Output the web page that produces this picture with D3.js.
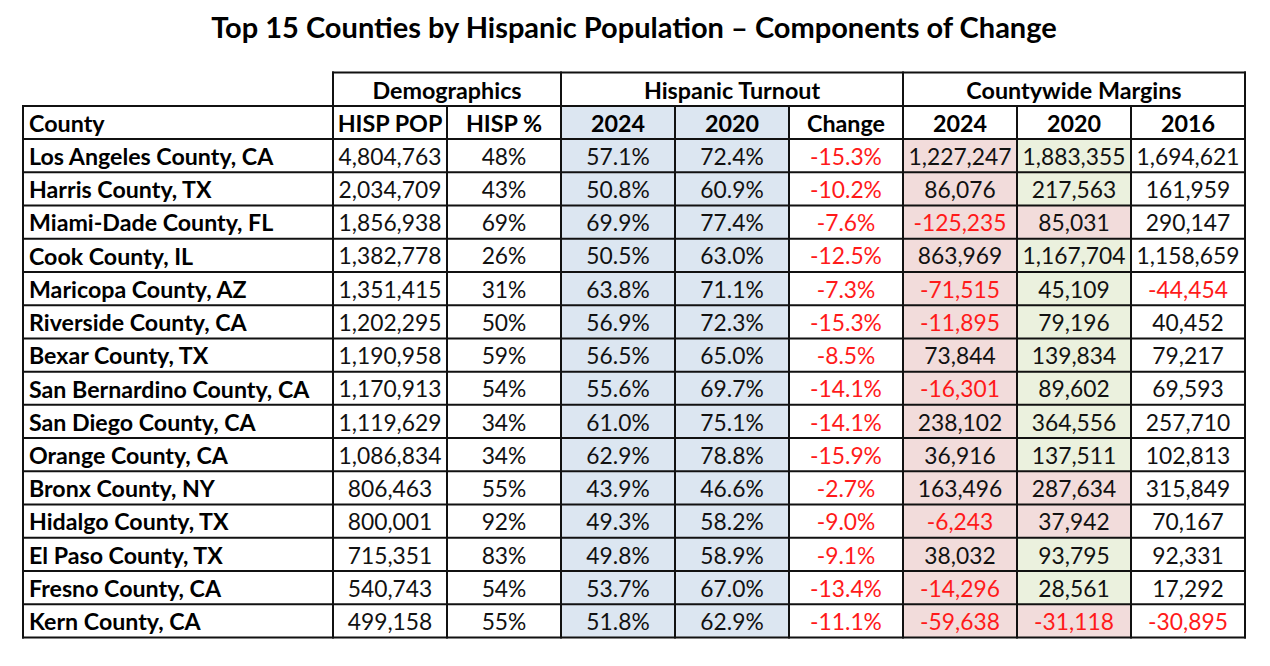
<!DOCTYPE html>
<html>
<head>
<meta charset="utf-8">
<script src="https://cdn.jsdelivr.net/npm/d3@7"></script>
<style>
  html, body { margin: 0; padding: 0; background: #fff; }
  svg { display: block; font-family: Lato, "Open Sans", sans-serif; }
  .title { font-weight: 700; font-size: 29px; fill: #000; }
  .head { font-weight: 700; font-size: 23.3px; fill: #000; }
  .cell { font-size: 22.8px; fill: #111; }
  .county { font-weight: 700; font-size: 23.2px; fill: #000; }
  .neg { fill: #ff1a1a; }
</style>
</head>
<body>
<svg id="chart" width="1270" height="666"></svg>
<script>
const counties = [
  "Los Angeles County, CA", "Harris County, TX", "Miami-Dade County, FL", "Cook County, IL",
  "Maricopa County, AZ", "Riverside County, CA", "Bexar County, TX", "San Bernardino County, CA",
  "San Diego County, CA", "Orange County, CA", "Bronx County, NY", "Hidalgo County, TX",
  "El Paso County, TX", "Fresno County, CA", "Kern County, CA"
];
const hispPop = [4804763, 2034709, 1856938, 1382778, 1351415, 1202295, 1190958, 1170913, 1119629, 1086834, 806463, 800001, 715351, 540743, 499158];
const hispPct = [48, 43, 69, 26, 31, 50, 59, 54, 34, 34, 55, 92, 83, 54, 55];
const turnout2024 = [57.1, 50.8, 69.9, 50.5, 63.8, 56.9, 56.5, 55.6, 61.0, 62.9, 43.9, 49.3, 49.8, 53.7, 51.8];
const turnout2020 = [72.4, 60.9, 77.4, 63.0, 71.1, 72.3, 65.0, 69.7, 75.1, 78.8, 46.6, 58.2, 58.9, 67.0, 62.9];
const turnoutChange = [-15.3, -10.2, -7.6, -12.5, -7.3, -15.3, -8.5, -14.1, -14.1, -15.9, -2.7, -9.0, -9.1, -13.4, -11.1];
const margin2024 = [1227247, 86076, -125235, 863969, -71515, -11895, 73844, -16301, 238102, 36916, 163496, -6243, 38032, -14296, -59638];
const margin2020 = [1883355, 217563, 85031, 1167704, 45109, 79196, 139834, 89602, 364556, 137511, 287634, 37942, 93795, 28561, -31118];
const margin2016 = [1694621, 161959, 290147, 1158659, -44454, 40452, 79217, 69593, 257710, 102813, 315849, 70167, 92331, 17292, -30895];

const groupLabels = ["Demographics", "Hispanic Turnout", "Countywide Margins"];
const columnLabels = ["HISP POP", "HISP %", "2024", "2020", "Change", "2024", "2020", "2016"];
const title = "Top 15 Counties by Hispanic Population \u2013 Components of Change";

const locale = d3.formatLocale({ decimal: ".", thousands: ",", grouping: [3], currency: ["$", ""], minus: "-" });
const fmtInt = locale.format(",");
const fmtPct1 = v => locale.format(".1f")(v) + "%";
const fmtPct0 = v => v + "%";

const BLUE = "#dce6f1", PINK = "#f2dcdb", GREEN = "#ebf1de";

const svg = d3.select("#chart");
const left = 23, countyRight = 333, right = 1245;
const headTop = 72.5, headMid = 106, bodyTop = 139, bodyBottom = 637.5;

svg.append("text").attr("class", "title")
  .attr("x", 634).attr("y", 38).attr("text-anchor", "middle").text(title);

const colKeys = d3.range(columnLabels.length);
const x = d3.scaleBand().domain(colKeys).range([countyRight, right]);
const y = d3.scaleBand().domain(d3.range(counties.length)).range([bodyTop, bodyBottom]);

// column definitions: values, formatter, fill rule
const columns = [
  { values: hispPop, fmt: fmtInt, fill: () => null },
  { values: hispPct, fmt: fmtPct0, fill: () => null },
  { values: turnout2024, fmt: fmtPct1, fill: () => BLUE },
  { values: turnout2020, fmt: fmtPct1, fill: () => BLUE },
  { values: turnoutChange, fmt: fmtPct1, fill: () => null },
  { values: margin2024, fmt: fmtInt, fill: i => margin2024[i] < margin2020[i] ? PINK : GREEN },
  { values: margin2020, fmt: fmtInt, fill: i => margin2020[i] < margin2016[i] ? PINK : GREEN },
  { values: margin2016, fmt: fmtInt, fill: () => null }
];

// fills
const fills = [];
columns.forEach((c, ci) => counties.forEach((_, ri) => {
  const f = c.fill(ri);
  if (f) fills.push({ ci, ri, f });
}));
svg.append("g").selectAll("rect").data(fills).join("rect")
  .attr("x", d => x(d.ci)).attr("y", d => y(d.ri))
  .attr("width", x.bandwidth()).attr("height", y.bandwidth())
  .attr("fill", d => d.f);
// header fills for turnout years
svg.append("g").selectAll("rect").data([2, 3]).join("rect")
  .attr("x", d => x(d)).attr("y", headMid)
  .attr("width", x.bandwidth()).attr("height", bodyTop - headMid)
  .attr("fill", BLUE);

// group header
const groups = [
  { label: groupLabels[0], from: 0, to: 1 },
  { label: groupLabels[1], from: 2, to: 4 },
  { label: groupLabels[2], from: 5, to: 7 }
];
svg.append("g").selectAll("text").data(groups).join("text")
  .attr("class", "head")
  .attr("x", d => (x(d.from) + x(d.to) + x.bandwidth()) / 2)
  .attr("y", (headTop + headMid) / 2)
  .attr("dy", "0.4em").attr("text-anchor", "middle")
  .text(d => d.label);

// column header
svg.append("text").attr("class", "head").attr("x", left + 6)
  .attr("y", (headMid + bodyTop) / 2).attr("dy", "0.4em").text("County");
svg.append("g").selectAll("text").data(colKeys).join("text")
  .attr("class", "head")
  .attr("x", d => x(d) + x.bandwidth() / 2)
  .attr("y", (headMid + bodyTop) / 2)
  .attr("dy", "0.4em").attr("text-anchor", "middle")
  .text(d => columnLabels[d]);

// county names
svg.append("g").selectAll("text").data(counties).join("text")
  .attr("class", "county")
  .attr("x", left + 6)
  .attr("y", (d, i) => y(i) + y.bandwidth() / 2)
  .attr("dy", "0.4em")
  .text(d => d);

// cells
const cells = [];
columns.forEach((c, ci) => c.values.forEach((v, ri) => cells.push({ ci, ri, v, t: c.fmt(v) })));
svg.append("g").selectAll("text").data(cells).join("text")
  .attr("class", d => d.v < 0 ? "cell neg" : "cell")
  .attr("x", d => x(d.ci) + x.bandwidth() / 2)
  .attr("y", d => y(d.ri) + y.bandwidth() / 2)
  .attr("dy", "0.4em").attr("text-anchor", "middle")
  .text(d => d.t);

// grid lines
const g = svg.append("g");
g.append("line").attr("x1", countyRight).attr("x2", right).attr("y1", headTop).attr("y2", headTop);
[headMid, ...d3.range(counties.length).map(i => y(i)), bodyBottom].forEach(yy =>
  g.append("line").attr("x1", left).attr("x2", right).attr("y1", yy).attr("y2", yy));
g.append("line").attr("x1", left).attr("x2", left).attr("y1", headMid).attr("y2", bodyBottom);
g.append("line").attr("x1", countyRight).attr("x2", countyRight).attr("y1", headTop).attr("y2", bodyBottom);
[x(2), x(5), right].forEach(xx =>
  g.append("line").attr("x1", xx).attr("x2", xx).attr("y1", headTop).attr("y2", bodyBottom));
[1, 3, 4, 6, 7].forEach(ci =>
  g.append("line").attr("x1", x(ci)).attr("x2", x(ci)).attr("y1", headMid).attr("y2", bodyBottom));
g.selectAll("line").attr("stroke", "#111").attr("stroke-width", 2).attr("stroke-linecap", "square");
</script>
</body>
</html>
